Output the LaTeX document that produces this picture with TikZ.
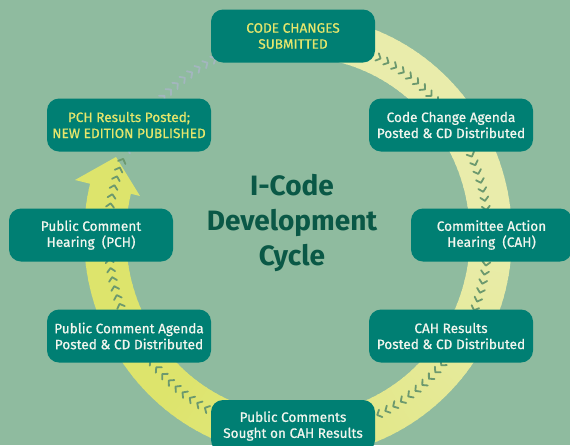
\documentclass[tikz,border=0pt]{standalone}
\usepackage{fontspec}
\setmainfont{Fira Sans}
\newfontfamily\boxfont{Fira Sans}[FakeBold=0.7]
\definecolor{bgc}{HTML}{8FBB9F}
\definecolor{boxteal}{HTML}{007F73}
\definecolor{boxwhite}{HTML}{F2F6EE}
\definecolor{boxyellow}{HTML}{E6E66C}
\definecolor{titlec}{HTML}{0A5846}
\definecolor{pale}{HTML}{E9ECAB}
\definecolor{sat}{HTML}{DDE46C}
\definecolor{chevdark}{HTML}{6C996E}
\definecolor{chevgrey}{HTML}{A3B6BE}
\begin{document}
\begin{tikzpicture}[x=1pt,y=-1pt,
  box/.style={rounded corners=12pt, fill=boxteal, minimum width=164pt,
    minimum height=53pt, align=center, text=boxwhite, inner sep=0pt,
    font=\boxfont\fontsize{13.6}{16}\selectfont},
  ybox/.style={box, text=boxyellow},
  chev/.style={line width=1.8pt, line cap=round, line join=round},
  titletext/.style={align=center, text=titlec,
    font=\fontsize{28}{35}\selectfont\bfseries}]
\useasboundingbox (0,0) rectangle (570,445);
\clip (0,0) rectangle (570,445);
\fill[bgc] (0,0) rectangle (570,445);
% band (colour shading from pale to saturated)
\foreach \a in {-100,-98,...,192} {
  \pgfmathsetmacro{\m}{min(100,max(0,\a/1.3))}
  \draw[line width=42pt, color=sat!\m!pale]
    plot[domain=\a:\a+2.6, samples=4] ({298+193*cos(\x)},{236+200*sin(\x)});
}
% arrow head
\fill[sat] (116,157) -- (75,180) -- (140,196) -- cycle;
% chevrons on the band
\foreach \i in {0,...,108} {
  \pgfmathsetmacro{\t}{-89+\i*2.7}
  \draw[chev, chevdark, shift={({298+190*cos(\t)},{236+197*sin(\t)})}, rotate=-\t-90]
    (-2.3,-4) -- (1.5,0) -- (-2.3,4);
}
% chevrons off the band
\foreach \i in {0,...,23} {
  \pgfmathsetmacro{\t}{206+\i*2.7}
  \draw[chev, chevgrey, shift={({298+190*cos(\t)},{236+197*sin(\t)})}, rotate=-\t-90]
    (-2.3,-4) -- (1.5,0) -- (-2.3,4);
}
% boxes
\node[ybox] (cc) at (293,36) {CODE CHANGES\\SUBMITTED};
\node[box] (cca) at (451,125) {Code Change Agenda\\Posted \& CD Distributed};
\node[box, minimum width=161pt] (cah) at (491.5,235) {Committee Action\\Hearing~ (CAH)};
\node[box] (cahr) at (451,336) {CAH Results\\Posted \& CD Distributed};
\node[box, minimum height=52pt] (pcs) at (293,426) {Public Comments\\Sought on CAH Results};
\node[box] (pca) at (129,336) {Public Comment Agenda\\Posted \& CD Distributed};
\node[box] (pch) at (91,235) {Public Comment\\Hearing~ (PCH)};
\node[ybox] (pchr) at (129,125) {PCH Results Posted;\\NEW EDITION PUBLISHED};
% title
\node[titletext] (title) at (292,223) {I-Code\\Development\\Cycle};
\end{tikzpicture}
\end{document}
